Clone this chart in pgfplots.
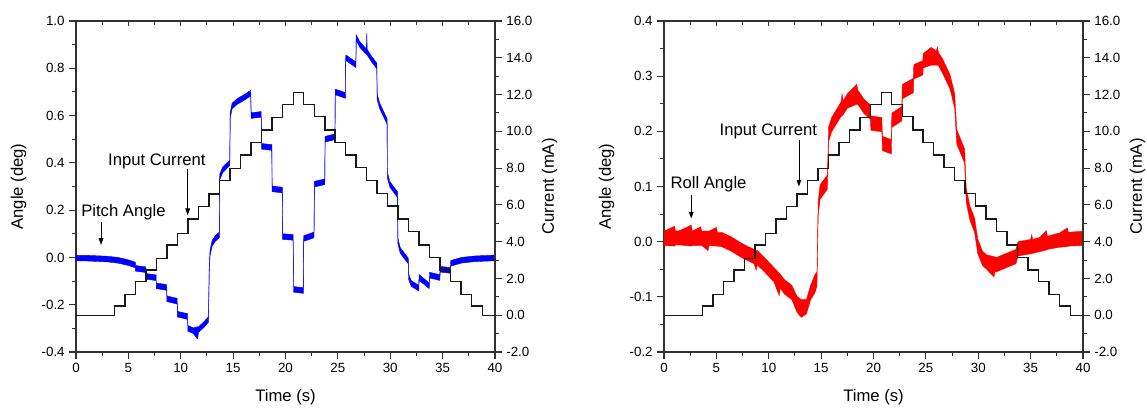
\documentclass[border=0pt]{standalone}
\usepackage{fontspec}
\setmainfont{Liberation Sans}
\usepackage{pgfplots}
\usepackage{pgfplotstable}
\pgfplotsset{compat=1.18}
\usepgfplotslibrary{fillbetween}
\usetikzlibrary{arrows.meta}

\definecolor{axgray}{RGB}{50,50,50}

\pgfplotstableread{
t lo hi
0 -0.015 0.009
1 -0.015 0.009
2 -0.017 0.007
3 -0.019 0.005
4 -0.024 0.000
5 -0.034 -0.010
5.67 -0.044 -0.020
5.67 -0.058 -0.034
6.68 -0.064 -0.040
6.68 -0.092 -0.068
7.66 -0.098 -0.074
7.66 -0.132 -0.108
8.66 -0.139 -0.115
8.68 -0.187 -0.163
9.66 -0.197 -0.173
9.68 -0.252 -0.228
10.66 -0.262 -0.238
10.68 -0.312 -0.288
11.2 -0.322 -0.298
11.6 -0.345 -0.293
11.7 -0.317 -0.293
12.2 -0.297 -0.273
12.65 -0.274 -0.250
12.72 -0.062 -0.038
12.8 0.008 0.032
13.0 0.048 0.072
13.3 0.068 0.092
13.68 0.083 0.107
13.72 0.328 0.352
14.0 0.358 0.382
14.68 0.388 0.412
14.72 0.588 0.612
14.9 0.628 0.652
15.4 0.648 0.672
16.0 0.663 0.687
16.68 0.683 0.707
16.72 0.588 0.612
17.68 0.593 0.617
17.72 0.458 0.482
18.7 0.453 0.477
18.72 0.278 0.302
19.7 0.273 0.297
19.73 0.076 0.100
20.73 0.073 0.097
20.77 -0.147 -0.123
21.7 -0.152 -0.128
21.74 0.068 0.092
22.72 0.083 0.107
22.76 0.298 0.322
23.75 0.308 0.332
23.78 0.488 0.512
24.72 0.498 0.522
24.75 0.688 0.712
25.72 0.673 0.697
25.75 0.833 0.857
26.72 0.803 0.827
26.75 0.918 0.942
27.1 0.888 0.912
27.72 0.858 0.882
27.76 0.858 0.950
27.8 0.856 0.880
28.2 0.828 0.852
28.72 0.798 0.822
28.75 0.668 0.692
29.0 0.628 0.652
29.7 0.563 0.587
29.72 0.338 0.362
29.95 0.298 0.322
30.7 0.253 0.277
30.73 0.058 0.082
30.95 0.018 0.042
31.72 -0.027 -0.003
31.75 -0.092 -0.068
32.0 -0.122 -0.098
32.72 -0.142 -0.118
32.76 -0.097 -0.073
33.72 -0.132 -0.108
33.76 -0.087 -0.063
34.73 -0.097 -0.073
34.77 -0.062 -0.038
35.74 -0.067 -0.043
35.78 -0.037 -0.013
36.8 -0.024 0.000
38 -0.018 0.006
40 -0.014 0.010
}\pitch

\pgfplotstableread{
t lo hi
0 -0.007 0.019
1.0 -0.008 0.028
1.1 -0.006 0.019
1.5 -0.006 0.020
2.6 -0.008 0.030
2.7 -0.007 0.019
3.5 -0.007 0.027
3.6 -0.007 0.019
4.2 -0.016 0.019
4.3 -0.007 0.019
5.0 -0.008 0.026
5.1 -0.008 0.017
5.5 -0.009 0.017
6.4 -0.017 0.009
7.6 -0.031 -0.005
8.6 -0.040 -0.014
8.8 -0.052 -0.016
8.9 -0.042 -0.016
9.5 -0.053 -0.027
10.5 -0.073 -0.047
11.0 -0.098 -0.057
11.1 -0.084 -0.059
11.5 -0.095 -0.069
12.2 -0.105 -0.079
12.7 -0.128 -0.099
13.1 -0.137 -0.105
13.6 -0.131 -0.105
14.0 -0.105 -0.079
14.4 -0.093 -0.060
14.6 -0.081 -0.055
14.72 0.047 0.073
14.9 0.077 0.103
15.6 0.095 0.121
15.72 0.182 0.208
16.0 0.199 0.225
16.9 0.227 0.253
17.0 0.228 0.268
17.1 0.230 0.255
17.5 0.242 0.268
18.4 0.249 0.285
18.5 0.249 0.275
19.1 0.232 0.258
19.7 0.222 0.248
19.75 0.202 0.228
20.8 0.199 0.225
20.85 0.165 0.191
21.7 0.159 0.185
21.75 0.207 0.233
22.7 0.219 0.245
22.75 0.259 0.285
23.8 0.270 0.296
23.85 0.295 0.321
24.7 0.302 0.328
24.75 0.315 0.341
25.5 0.320 0.352
26.0 0.320 0.346
26.1 0.320 0.353
26.2 0.319 0.343
26.6 0.305 0.331
27.3 0.277 0.303
27.75 0.242 0.268
27.95 0.177 0.203
28.7 0.142 0.168
28.85 0.072 0.098
29.2 0.039 0.065
29.65 0.017 0.043
29.95 -0.021 0.005
30.4 -0.043 -0.017
30.8 -0.050 -0.024
31.5 -0.064 -0.027
31.6 -0.054 -0.028
31.7 -0.055 -0.029
32.7 -0.047 -0.021
33.6 -0.040 -0.014
33.8 -0.026 0.000
35.0 -0.022 0.004
35.1 -0.022 0.013
35.2 -0.021 0.004
35.9 -0.018 0.008
36.5 -0.015 0.020
36.6 -0.014 0.010
37.8 -0.010 0.016
38.5 -0.009 0.025
38.6 -0.008 0.017
40 -0.007 0.019
}\roll

\pgfplotstableread{
t c
0 0
3.65 0.5
4.67 1.14
5.67 1.82
6.68 2.46
7.68 3.09
8.68 3.82
9.68 4.45
10.68 5.23
11.69 5.9
12.69 6.59
13.7 7.32
14.7 7.99
15.71 8.71
16.71 9.4
17.72 10.07
18.72 10.76
19.73 11.47
20.75 12.12
21.72 11.47
22.75 10.8
23.77 10.07
24.74 9.4
25.74 8.71
26.74 8.02
27.75 7.32
28.74 6.63
29.74 5.94
30.73 5.23
31.73 4.54
32.74 3.82
33.74 3.15
34.75 2.46
35.76 1.82
36.77 1.14
37.78 0.5
38.8 0
40 0
}\current

\tikzset{
  annot/.style={font=\fontsize{12.5}{14}\selectfont, inner sep=0pt},
  arr/.style={-{Triangle[length=5pt,width=3.5pt]}, line width=0.6pt, black}
}

\pgfplotsset{
  base/.style={scale only axis, width=314.25pt, height=248.25pt, xmin=0, xmax=40,
    axis line style={axgray, line width=0.9pt},
    every tick/.append style={axgray, line width=0.8pt},
    major tick length=5pt, minor tick length=3pt,
    tick label style={font=\fontsize{10}{12}\selectfont},
    label style={font=\fontsize{12.5}{14}\selectfont},
    /pgf/number format/assume math mode=true},
  angleax/.style={base, xtick={0,5,...,40}, minor x tick num=1,
    xtick pos=bottom, ytick pos=left, tick align=outside, minor y tick num=1,
    yticklabel style={/pgf/number format/.cd, fixed, fixed zerofill, precision=1},
    xlabel={Time (s)}, ylabel={Angle (deg)},
    xlabel style={at={(axis description cs:0.5,-0.136)}, anchor=center},
    ylabel style={at={(axis description cs:-0.137,0.5)}, anchor=center}},
  curax/.style={base, axis x line=none, axis y line*=right,
    ymin=-2, ymax=16, ytick={-2,0,2,4,6,8,10,12,14,16}, minor y tick num=1,
    tick align=outside,
    yticklabel style={/pgf/number format/.cd, fixed, fixed zerofill, precision=1},
    ylabel={Current (mA)},
    ylabel style={at={(axis description cs:1.13,0.5)}, anchor=center}},
  topax/.style={base, axis y line=none, axis x line*=top, ymin=0, ymax=1,
    xtick={0,5,...,40}, minor x tick num=1, xticklabels={},
    tick align=inside, major tick length=4pt, minor tick length=3pt}
}

\begin{document}
\begin{tikzpicture}
% ---------------- left panel ----------------
\begin{axis}[angleax, at={(0,0)}, ymin=-0.4, ymax=1.0,
  ytick={-0.4,-0.2,0,0.2,0.4,0.6,0.8,1.0}]
  \addplot[name path=pu, blue, line width=0.3pt] table[x=t,y=hi] {\pitch};
  \addplot[name path=pl, blue, line width=0.3pt] table[x=t,y=lo] {\pitch};
  \addplot[blue] fill between[of=pu and pl];
  \node[annot] at (axis cs:4.53,0.192) {Pitch Angle};
  \draw[arr] (axis cs:2.39,0.150) -- (axis cs:2.39,0.053);
  \node[annot] at (axis cs:7.72,0.408) {Input Current};
  \draw[arr] (axis cs:10.66,0.374) -- (axis cs:10.66,0.179);
\end{axis}
\begin{axis}[topax, at={(0,0)}]
\end{axis}
\begin{axis}[curax, at={(0,0)}]
  \addplot[const plot, black!90, line width=1.05pt] table[x=t,y=c] {\current};
\end{axis}
% ---------------- right panel ----------------
\begin{axis}[angleax, at={(441pt,0)}, ymin=-0.2, ymax=0.4,
  ytick={-0.2,-0.1,0,0.1,0.2,0.3,0.4}]
  \addplot[name path=ru, red, line width=0.3pt] table[x=t,y=hi] {\roll};
  \addplot[name path=rl, red, line width=0.3pt] table[x=t,y=lo] {\roll};
  \addplot[red] fill between[of=ru and rl];
  \node[annot] at (axis cs:4.25,0.1045) {Roll Angle};
  \draw[arr] (axis cs:2.6,0.085) -- (axis cs:2.6,0.042);
  \node[annot] at (axis cs:9.96,0.200) {Input Current};
  \draw[arr] (axis cs:12.88,0.184) -- (axis cs:12.88,0.100);
\end{axis}
\begin{axis}[topax, at={(441pt,0)}]
\end{axis}
\begin{axis}[curax, at={(441pt,0)}]
  \addplot[const plot, black!90, line width=1.05pt] table[x=t,y=c] {\current};
\end{axis}
\pgfresetboundingbox
\path[use as bounding box] (-57pt,-42pt) rectangle (803.25pt,264pt);
\end{tikzpicture}
\end{document}
